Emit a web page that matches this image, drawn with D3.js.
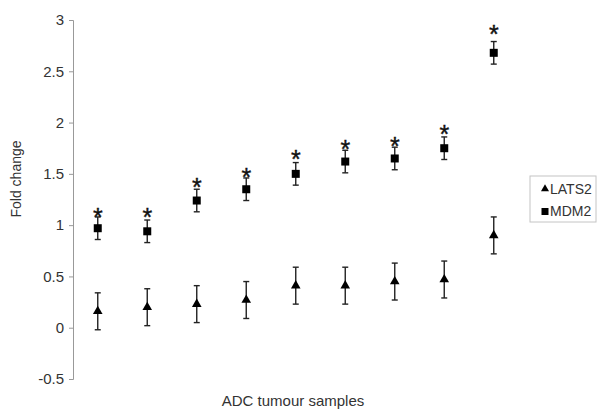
<!DOCTYPE html>
<html>
<head>
<meta charset="utf-8">
<script src="https://cdn.jsdelivr.net/npm/d3@7"></script>
<style>
  body { margin: 0; background: #fff; }
  text { font-family: "Liberation Sans", Arial, sans-serif; fill: #333; }
</style>
</head>
<body>
<div id="chart"></div>
<script>
// data
const samples = [1, 2, 3, 4, 5, 6, 7, 8, 9];
const lats2 = [0.16, 0.20, 0.23, 0.27, 0.41, 0.41, 0.45, 0.47, 0.90];
const lats2Err = [0.18, 0.18, 0.18, 0.18, 0.18, 0.18, 0.18, 0.18, 0.18];
const mdm2 = [0.97, 0.94, 1.24, 1.35, 1.50, 1.62, 1.65, 1.75, 2.68];
const mdm2Err = [0.11, 0.11, 0.11, 0.11, 0.11, 0.11, 0.11, 0.11, 0.11];
const starLevel = [1.13, 1.13, 1.42, 1.52, 1.69, 1.79, 1.82, 1.94, 2.91];
const yTicks = [-0.5, 0, 0.5, 1, 1.5, 2, 2.5, 3];

const width = 598, height = 410;
const margin = { left: 73, right: 80, top: 20, bottom: 31 };

const svg = d3.select("#chart").append("svg")
  .attr("width", width)
  .attr("height", height);

const x = d3.scaleBand().domain(samples)
  .range([margin.left, margin.left + 9 * 49.5]);
const y = d3.scaleLinear().domain([-0.5, 3])
  .range([height - margin.bottom, margin.top]);

const cx = d => x(d) + x.bandwidth() / 2;

// y axis (plain hyphen for negatives, like the original)
const yAxis = svg.append("g")
  .attr("transform", "translate(" + margin.left + ",0)")
  .call(d3.axisLeft(y).tickValues(yTicks).tickSize(4).tickPadding(5)
    .tickFormat(d => String(d)));
yAxis.select(".domain").attr("stroke", "#999");
yAxis.selectAll(".tick line").attr("stroke", "#999");
yAxis.selectAll(".tick text")
  .attr("font-size", 15)
  .attr("font-family", "Liberation Sans, Arial, sans-serif")
  .attr("fill", "#333");

// axis titles
svg.append("text")
  .attr("transform", "translate(21,179) rotate(-90)")
  .attr("text-anchor", "middle")
  .attr("font-size", 14)
  .text("Fold change");

svg.append("text")
  .attr("x", 293)
  .attr("y", 406)
  .attr("text-anchor", "middle")
  .attr("font-size", 15)
  .text("ADC tumour samples");

// error bars
function errorBars(vals, errs) {
  const g = svg.append("g").attr("stroke", "#222").attr("stroke-width", 1.4);
  samples.forEach((s, i) => {
    const top = y(vals[i] + errs[i]), bot = y(vals[i] - errs[i]);
    g.append("line").attr("x1", cx(s)).attr("x2", cx(s)).attr("y1", top).attr("y2", bot);
    g.append("line").attr("x1", cx(s) - 3).attr("x2", cx(s) + 3).attr("y1", top).attr("y2", top);
    g.append("line").attr("x1", cx(s) - 3).attr("x2", cx(s) + 3).attr("y1", bot).attr("y2", bot);
  });
}
errorBars(lats2, lats2Err);
errorBars(mdm2, mdm2Err);

// markers
svg.append("g").selectAll("path")
  .data(samples)
  .join("path")
  .attr("transform", (d, i) => "translate(" + cx(d) + "," + y(lats2[i]) + ")")
  .attr("d", d3.symbol(d3.symbolTriangle, 40))
  .attr("fill", "#000");

svg.append("g").selectAll("rect")
  .data(samples)
  .join("rect")
  .attr("x", d => cx(d) - 4)
  .attr("y", (d, i) => y(mdm2[i]) - 4)
  .attr("width", 8)
  .attr("height", 8)
  .attr("fill", "#000");

// significance stars
svg.append("g").selectAll("text")
  .data(samples)
  .join("text")
  .attr("x", d => cx(d))
  .attr("y", (d, i) => y(starLevel[i]) + 14)
  .attr("text-anchor", "middle")
  .attr("font-size", 25)
  .style("fill", "#111")
  .style("stroke", "#111")
  .style("stroke-width", 0.4)
  .text("*");

// legend
const legend = svg.append("g").attr("transform", "translate(530,176)");
legend.append("rect")
  .attr("width", 66).attr("height", 46)
  .attr("fill", "#fff").attr("stroke", "#c4c4c4");
legend.append("path")
  .attr("transform", "translate(15,13)")
  .attr("d", d3.symbol(d3.symbolTriangle, 28))
  .attr("fill", "#000");
legend.append("text")
  .attr("x", 20).attr("y", 18)
  .attr("font-size", 14)
  .text("LATS2");
legend.append("rect")
  .attr("x", 11.5).attr("y", 32).attr("width", 7).attr("height", 7)
  .attr("fill", "#000");
legend.append("text")
  .attr("x", 20).attr("y", 40)
  .attr("font-size", 14)
  .text("MDM2");
</script>
</body>
</html>
